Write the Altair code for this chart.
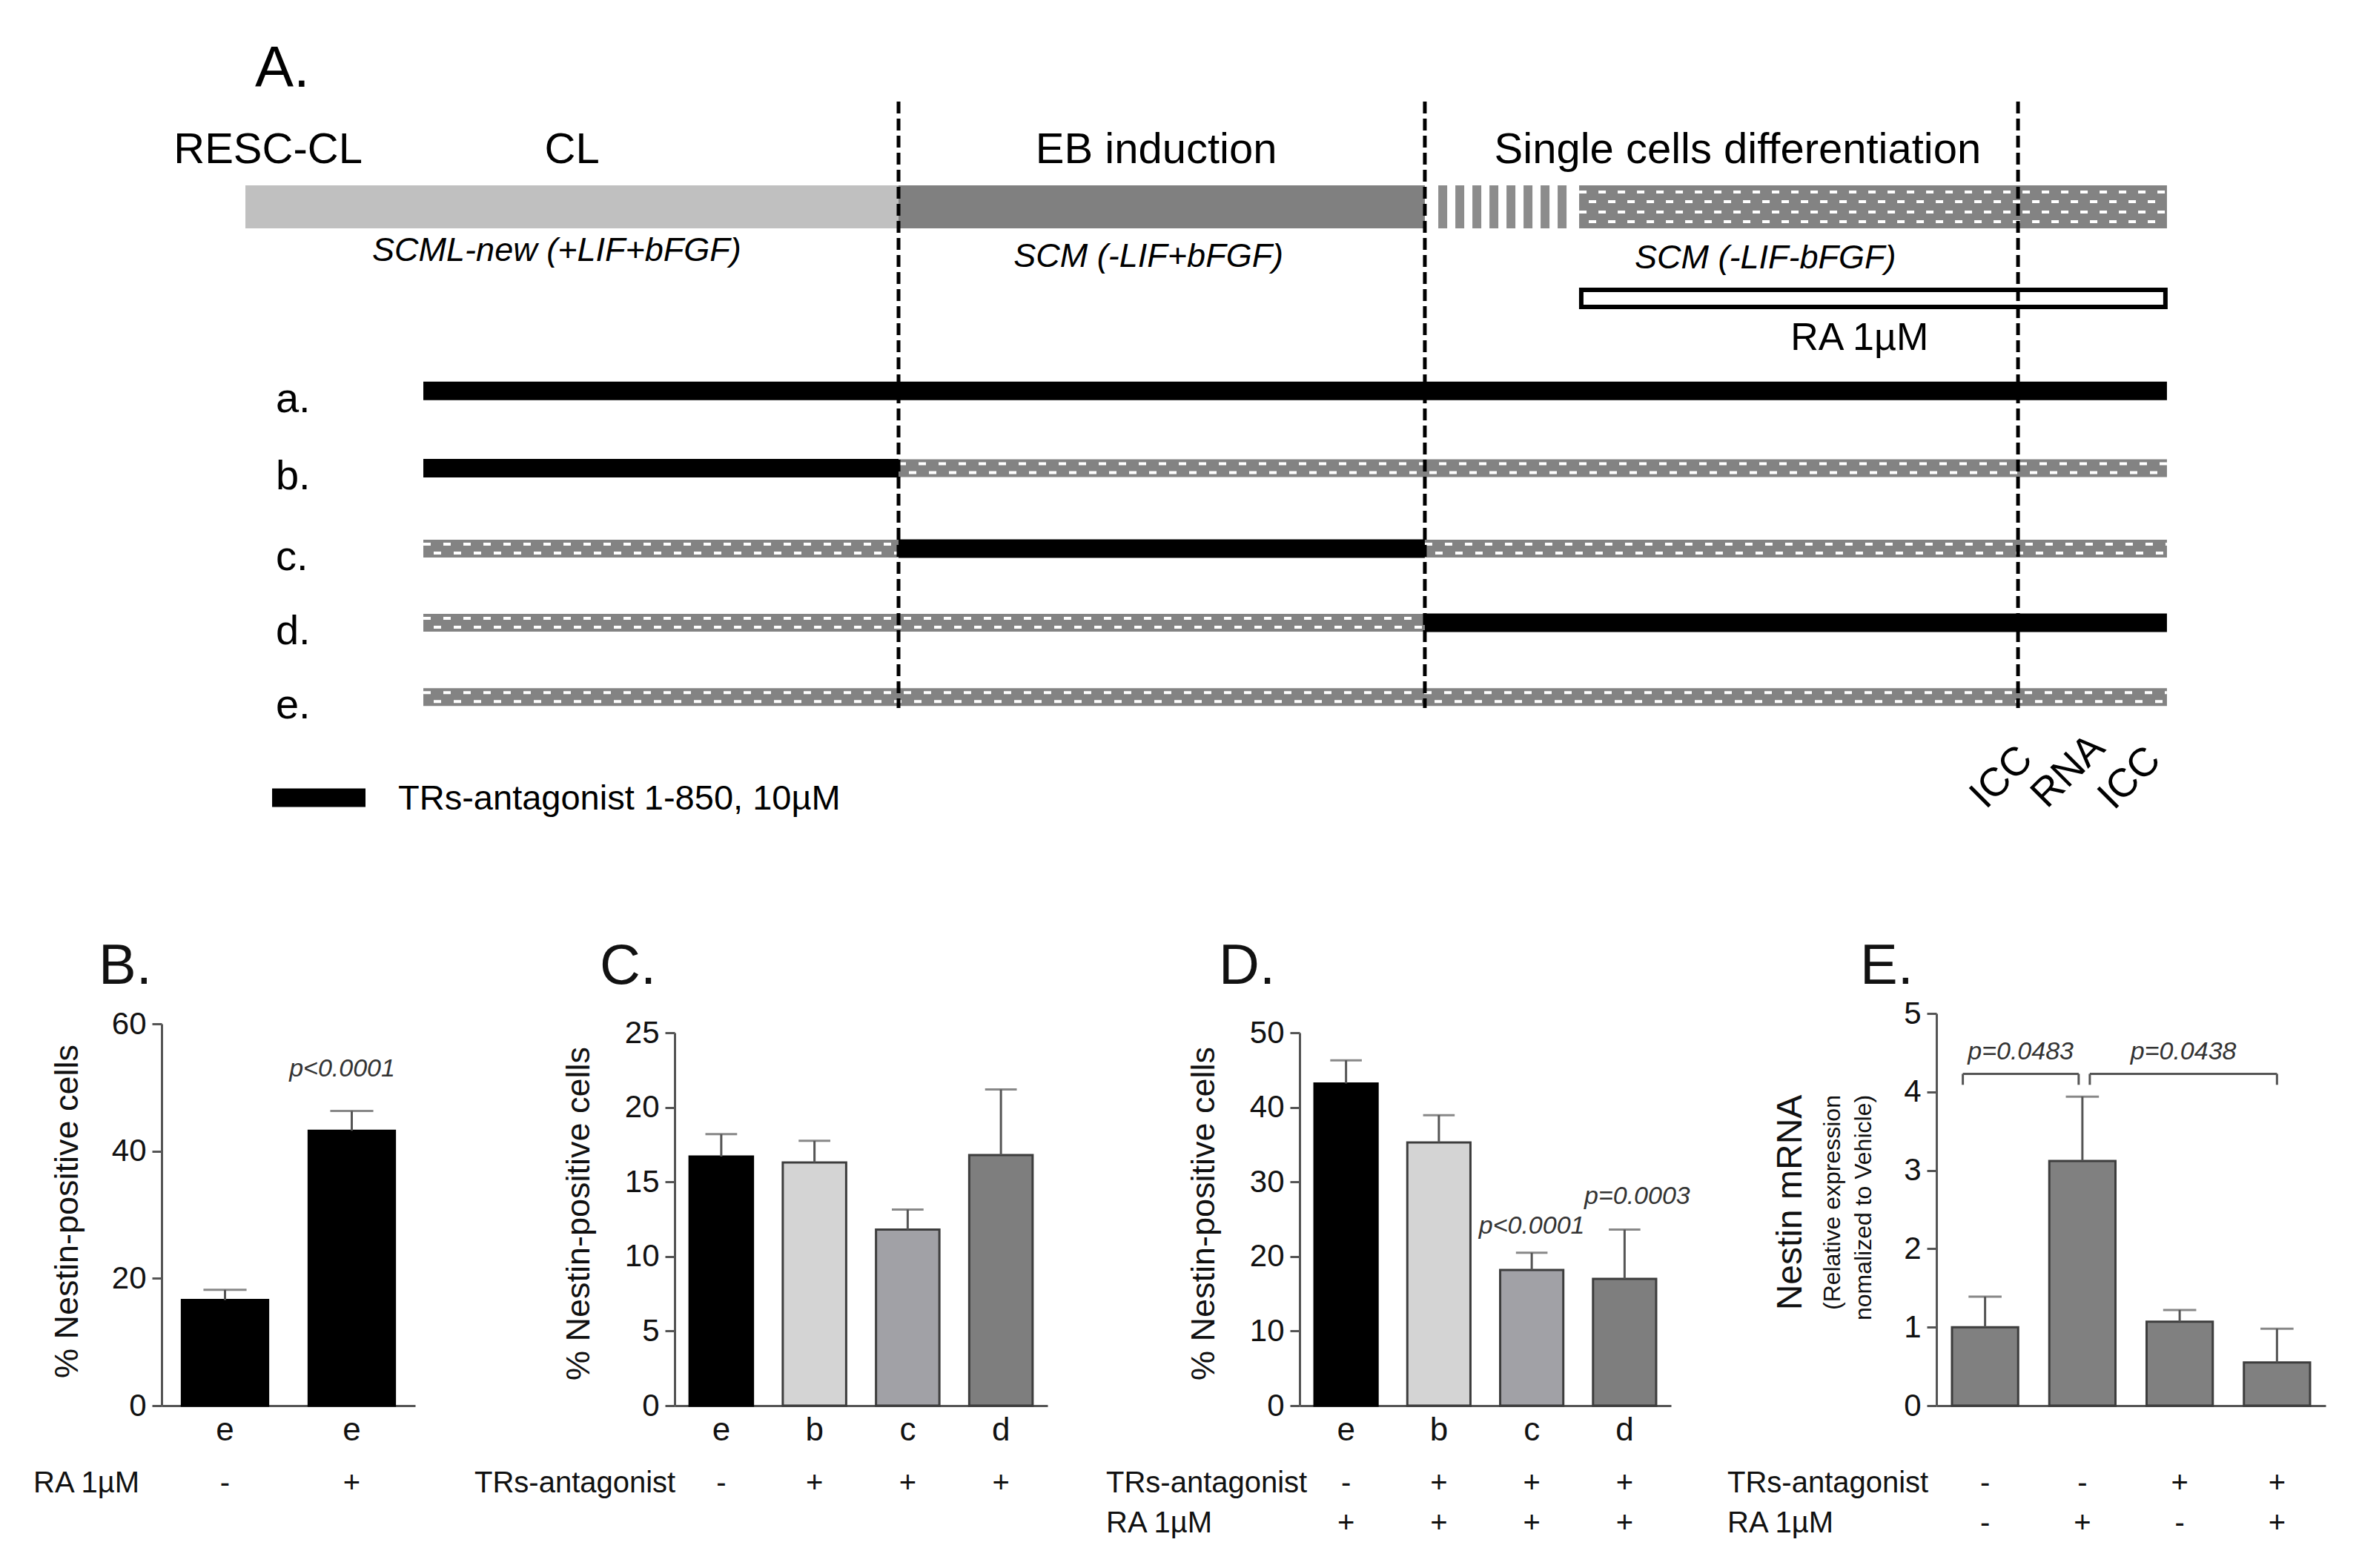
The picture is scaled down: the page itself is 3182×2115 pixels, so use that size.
import altair as alt
import pandas as pd

FONT = "Liberation Sans"
INK = "#111111"
AXIS_GREY = "#555555"
BAR_STROKE = "#3d3d3d"

# ===================== Panel A : protocol schematic (timeline, % of protocol) =====================
stage_start = [0.0, 33.99]
stage_end = [33.99, 61.38]
stage_fill = ["#c0c0c0", "#808080"]
dissociation_span = [62.08, 68.98]
scm_span = [69.41, 100.0]
ra_span = [69.52, 99.92]
phase_bounds = [33.99, 61.38, 92.25]

header_text = ["RESC-CL", "CL", "EB induction", "Single cells differentiation"]
header_x = [1.18, 17.0, 47.4, 77.66]
medium_text = ["SCML-new (+LIF+bFGF)", "SCM (-LIF+bFGF)", "SCM (-LIF-bFGF)"]
medium_x = [16.2, 47.0, 79.1]
ra_label = "RA 1µM"
ra_label_x = 84.0

protocols = ["a.", "b.", "c.", "d.", "e."]
treated_protocol = ["a.", "b.", "c.", "d."]
treated_start = [9.26, 9.26, 33.99, 61.38]
treated_end = [100.0, 33.99, 61.38, 100.0]
vehicle_protocol = ["b.", "c.", "c.", "d.", "e."]
vehicle_start = [33.99, 9.26, 61.38, 9.26, 9.26]
vehicle_end = [100.0, 33.99, 100.0, 61.38, 100.0]

readouts = ["ICC", "RNA", "ICC"]
readout_x = [91.4, 94.87, 98.07]
legend_span = [1.39, 6.25]
legend_label = "TRs-antagonist 1-850, 10µM"

# ===================== Panels B-E =====================
B_groups = ["e", "e"]
B_RA = ["-", "+"]
B_mean = [16.6, 43.2]
B_sem = [1.6, 3.1]

C_groups = ["e", "b", "c", "d"]
C_TR = ["-", "+", "+", "+"]
C_mean = [16.7, 16.3, 11.8, 16.8]
C_sem = [1.5, 1.45, 1.35, 4.4]

D_groups = ["e", "b", "c", "d"]
D_TR = ["-", "+", "+", "+"]
D_RA = ["+", "+", "+", "+"]
D_mean = [43.2, 35.3, 18.2, 17.0]
D_sem = [3.1, 3.65, 2.3, 6.6]

E_TR = ["-", "-", "+", "+"]
E_RA = ["-", "+", "-", "+"]
E_mean = [1.0, 3.12, 1.07, 0.55]
E_sem = [0.39, 0.82, 0.15, 0.43]

group_fill = {"e": "#000000", "b": "#d4d4d4", "c": "#a1a1a6", "d": "#7e7e7e"}

# ===================== layout of panel A =====================
WA, HA = 2932, 1000
PAD_L, PAD_T = 173, 80
XA = alt.Scale(domain=[-4.36, 108.76], nice=False, zero=False)
YA = alt.Scale(domain=[0.949, 10.634], nice=False, zero=False, reverse=True)
LANE_TITLE = 1.017
LANE_HEADER = 2.015
LANE_BAR = 2.586
MEDIUM_LANES = [3.293, 3.37, 3.39]
RA_BOX = (3.671, 3.893)
LANE_RA_LABEL = 4.455
PROTOCOL_LANES = [4.99, 6.0, 7.05, 8.02, 8.99]
DASH_LANES = (1.211, 9.133)
LANE_LEGEND = 10.305
LANE_LEGEND_TXT = 10.46
READOUT_LANES = [10.04, 9.96, 10.05]
PATTERN_GREY = "#838383"


def ax(f):
    return alt.X(f, type="quantitative", scale=XA, axis=None)


def ay(f):
    return alt.Y(f, type="quantitative", scale=YA, axis=None)


lane_of = dict(zip(protocols, PROTOCOL_LANES))
A = []

# invisible frame that fixes the panel's outer bounds
A.append(alt.Chart(pd.DataFrame({"a": [0]})).mark_rect(opacity=0).encode(
    x=alt.value(-PAD_L), x2=alt.value(WA), y=alt.value(-PAD_T), y2=alt.value(HA)))

stages = pd.DataFrame({"s": stage_start, "e": stage_end, "fill": stage_fill, "y": LANE_BAR})
A.append(alt.Chart(stages).mark_rule(strokeWidth=58, strokeCap="butt").encode(
    x=ax("s"), x2="e", y=ay("y"), color=alt.Color("fill:N", scale=None)))

diss = pd.DataFrame({"s": [dissociation_span[0]], "e": [dissociation_span[1]], "y": [LANE_BAR]})
A.append(alt.Chart(diss).mark_rule(strokeWidth=58, strokeCap="butt", strokeDash=[12, 11],
                                    color="#8c8c8c").encode(x=ax("s"), x2="e", y=ay("y")))

scm = pd.DataFrame({"s": [scm_span[0]], "e": [scm_span[1]], "y": [LANE_BAR]})
A.append(alt.Chart(scm).mark_rule(strokeWidth=58, strokeCap="butt", color=PATTERN_GREY).encode(
    x=ax("s"), x2="e", y=ay("y")))
for off, doff in [(-20, 0), (-7, 13), (7, 0), (20, 13)]:
    A.append(alt.Chart(scm).mark_rule(strokeWidth=4, strokeCap="butt", strokeDash=[10, 16],
                                       strokeDashOffset=doff, color="white", yOffset=off).encode(
        x=ax("s"), x2="e", y=ay("y")))

ra = pd.DataFrame({"s": [ra_span[0]], "e": [ra_span[1]], "y": [RA_BOX[0]], "y2": [RA_BOX[1]]})
A.append(alt.Chart(ra).mark_rect(fill="white", stroke="black", strokeWidth=6).encode(
    x=ax("s"), x2="e", y=ay("y"), y2="y2"))

veh = pd.DataFrame({"s": vehicle_start, "e": vehicle_end,
                    "y": [lane_of[p] for p in vehicle_protocol]})
A.append(alt.Chart(veh).mark_rule(strokeWidth=24, strokeCap="butt", color=PATTERN_GREY).encode(
    x=ax("s"), x2="e", y=ay("y")))
for off, doff in [(-6, 0), (6, 13)]:
    A.append(alt.Chart(veh).mark_rule(strokeWidth=4, strokeCap="butt", strokeDash=[10, 17],
                                       strokeDashOffset=doff, color="white", yOffset=off).encode(
        x=ax("s"), x2="e", y=ay("y")))

trt = pd.DataFrame({"s": treated_start, "e": treated_end,
                    "y": [lane_of[p] for p in treated_protocol]})
A.append(alt.Chart(trt).mark_rule(strokeWidth=25, strokeCap="butt", color="black").encode(
    x=ax("s"), x2="e", y=ay("y")))

ph = pd.DataFrame({"x": phase_bounds, "y": DASH_LANES[0], "y2": DASH_LANES[1]})
A.append(alt.Chart(ph).mark_rule(strokeWidth=5, strokeDash=[16, 7], color="black").encode(
    x=ax("x"), y=ay("y"), y2="y2"))

leg = pd.DataFrame({"s": [legend_span[0]], "e": [legend_span[1]], "y": [LANE_LEGEND]})
A.append(alt.Chart(leg).mark_rule(strokeWidth=25, strokeCap="butt", color="black").encode(
    x=ax("s"), x2="e", y=ay("y")))


def a_text(texts, xs, ys, **kw):
    df = pd.DataFrame({"t": texts, "x": xs, "y": ys})
    return alt.Chart(df).mark_text(font=FONT, color="black", **kw).encode(
        x=ax("x"), y=ay("y"), text="t:N")


A.append(a_text(["A."], [0.5], [LANE_TITLE], fontSize=78, align="left", baseline="alphabetic"))
A.append(a_text(header_text, header_x, [LANE_HEADER] * 4, fontSize=58, align="center",
                baseline="alphabetic"))
A.append(a_text(medium_text, medium_x, MEDIUM_LANES, fontSize=45, fontStyle="italic",
                align="center", baseline="alphabetic"))
A.append(a_text([ra_label], [ra_label_x], [LANE_RA_LABEL], fontSize=52, align="center",
                baseline="alphabetic"))
A.append(a_text(protocols, [1.58] * 5, [l + 0.28 for l in PROTOCOL_LANES], fontSize=56,
                align="left", baseline="alphabetic"))
A.append(a_text([legend_label], [7.95], [LANE_LEGEND_TXT], fontSize=47, align="left",
                baseline="alphabetic"))
A.append(a_text(readouts, readout_x, READOUT_LANES, fontSize=54, align="center",
                baseline="middle", angle=315))

panel_a = alt.layer(*A).properties(width=WA, height=HA)

# ===================== bar panels =====================
HB = 529  # common plot height of panels B-E (all plot tops aligned by the layout)


def txt(t, x, y, size, align="left", baseline="alphabetic", **kw):
    return alt.Chart(pd.DataFrame({"t": [t]})).mark_text(
        font=FONT, fontSize=size, color=INK, align=align, baseline=baseline, **kw).encode(
        x=alt.value(x), y=alt.value(y), text="t:N")


def bar_panel(tag, means, sems, fills, W, top, ymax, yticks, L, R, letter_dx,
              groups=None, sign_rows=(), titles=(), pvals=(), brackets=()):
    H = HB
    n = len(means)
    ids = [f"{tag}{i + 1}" for i in range(n)]
    df = pd.DataFrame({
        "id": ids, "mean": means,
        "upper": [m + s for m, s in zip(means, sems)],
        "fill": fills,
        "stroke": ["#000000" if f == "#000000" else BAR_STROKE for f in fills],
    })
    if groups:
        df["grp"] = groups
    for k, (_, signs) in enumerate(sign_rows):
        df[f"s{k}"] = signs
    xs = alt.Scale(domain=ids, paddingInner=0.32, paddingOuter=0.16)
    ys = alt.Scale(domain=[0, ymax], range=[H, top], nice=False, zero=True)
    X = alt.X("id:N", scale=xs,
              axis=alt.Axis(labels=False, ticks=False, title=None, domain=True, grid=False))
    yax = alt.Axis(values=yticks, title=None, grid=False)

    def Y(f):
        return alt.Y(f, type="quantitative", scale=ys, axis=yax)

    base = alt.Chart(df)
    cap = 0.34 * W / n
    layers = [
        alt.Chart(pd.DataFrame({"a": [0]})).mark_rect(opacity=0).encode(
            x=alt.value(-L), x2=alt.value(W + R), y=alt.value(0), y2=alt.value(1)),
        base.mark_bar(strokeWidth=3).encode(
            x=X, y=Y("mean"), fill=alt.Fill("fill:N", scale=None),
            stroke=alt.Stroke("stroke:N", scale=None)),
        base.mark_rule(strokeWidth=3, color=AXIS_GREY).encode(x=X, y=Y("mean"), y2="upper"),
        base.mark_tick(thickness=3, size=cap, color=AXIS_GREY).encode(x=X, y=Y("upper")),
        txt(f"{tag}.", letter_dx, -40, 76),
    ]
    if groups:
        layers.append(base.mark_text(font=FONT, fontSize=44, color=INK, baseline="alphabetic").encode(
            x=X, y=alt.value(H + 47), text="grp:N"))
    row_base = [117, 171]
    for k, (label, _) in enumerate(sign_rows):
        layers.append(txt(label, -L, H + row_base[k], 40))
        layers.append(base.mark_text(font=FONT, fontSize=40, color=INK, baseline="alphabetic").encode(
            x=X, y=alt.value(H + row_base[k]), text=f"s{k}:N"))
    for (t, dx, ty, size) in titles:
        layers.append(txt(t, dx, ty, size, align="center", baseline="middle", angle=270))
    for (idx, v, t, dx) in pvals:
        pdf = pd.DataFrame({"id": [ids[idx]], "v": [v], "t": [t]})
        layers.append(alt.Chart(pdf).mark_text(
            font=FONT, fontSize=34, fontStyle="italic", color="#333333", baseline="middle", dx=dx).encode(
            x=X, y=Y("v"), text="t:N"))
    for (i0, i1, y0, y1, o0, o1) in brackets:
        if i1 is None:
            bdf = pd.DataFrame({"id": [ids[i0]], "v": [y0], "v2": [y1]})
            layers.append(alt.Chart(bdf).mark_rule(strokeWidth=3, color=AXIS_GREY, xOffset=o0).encode(
                x=X, y=Y("v"), y2="v2"))
        else:
            bdf = pd.DataFrame({"id": [ids[i0]], "id2": [ids[i1]], "v": [y0]})
            layers.append(alt.Chart(bdf).mark_rule(strokeWidth=3, color=AXIS_GREY, xOffset=o0,
                                                   x2Offset=o1).encode(
                x=X, x2="id2:N", y=Y("v")))
    return alt.layer(*layers).properties(width=W, height=H)


NEST = "% Nestin-positive cells"
panel_b = bar_panel("B", B_mean, B_sem, ["#000000"] * 2, 342, 14, 60, [0, 20, 40, 60],
                    173, 80, -85, groups=B_groups, sign_rows=[("RA 1µM", B_RA)],
                    titles=[(NEST, -127, 267, 45)], pvals=[(1, 52.9, "p<0.0001", -13)])
panel_c = bar_panel("C", C_mean, C_sem, [group_fill[g] for g in C_groups], 503, 26, 25,
                    [0, 5, 10, 15, 20, 25], 270, 79, -101, groups=C_groups,
                    sign_rows=[("TRs-antagonist", C_TR)], titles=[(NEST, -129, 270, 45)])
panel_d = bar_panel("D", D_mean, D_sem, [group_fill[g] for g in D_groups], 501, 26, 50,
                    [0, 10, 20, 30, 40, 50], 261, 76, -109, groups=D_groups,
                    sign_rows=[("TRs-antagonist", D_TR), ("RA 1µM", D_RA)],
                    titles=[(NEST, -129, 270, 45)],
                    pvals=[(2, 24.1, "p<0.0001", 0), (3, 28.0, "p=0.0003", 17)])
panel_e = bar_panel("E", E_mean, E_sem, ["#808080"] * 4, 525, 0, 5, [0, 1, 2, 3, 4, 5],
                    282, 12, -103, groups=None,
                    sign_rows=[("TRs-antagonist", E_TR), ("RA 1µM", E_RA)],
                    titles=[("Nestin mRNA", -196, 255, 48), ("(Relative expression", -140, 255, 32),
                            ("nomalized to Vehicle)", -98, 262, 32)],
                    pvals=[(0, 4.51, "p=0.0483", 48), (2, 4.51, "p=0.0438", 5)],
                    brackets=[(0, 1, 4.23, None, -30, -5), (1, 3, 4.23, None, 10, 0),
                              (0, None, 4.09, 4.23, -30, None), (1, None, 4.09, 4.23, -5, None),
                              (1, None, 4.09, 4.23, 10, None), (3, None, 4.09, 4.23, 0, None)])

bottom = alt.hconcat(panel_b, panel_c, panel_d, panel_e, spacing=0)

chart = alt.vconcat(panel_a, bottom, spacing=156).properties(
    padding={"left": 37, "top": 22, "right": 5, "bottom": 5}
).configure_view(stroke=None).configure_axis(
    labelFont=FONT, labelFontSize=42, labelColor=INK, domainColor=AXIS_GREY, domainWidth=3,
    tickColor=AXIS_GREY, tickWidth=3, tickSize=13, labelPadding=8, grid=False
)

chart.save("out.html", embed_options={"renderer": "svg", "actions": False})
